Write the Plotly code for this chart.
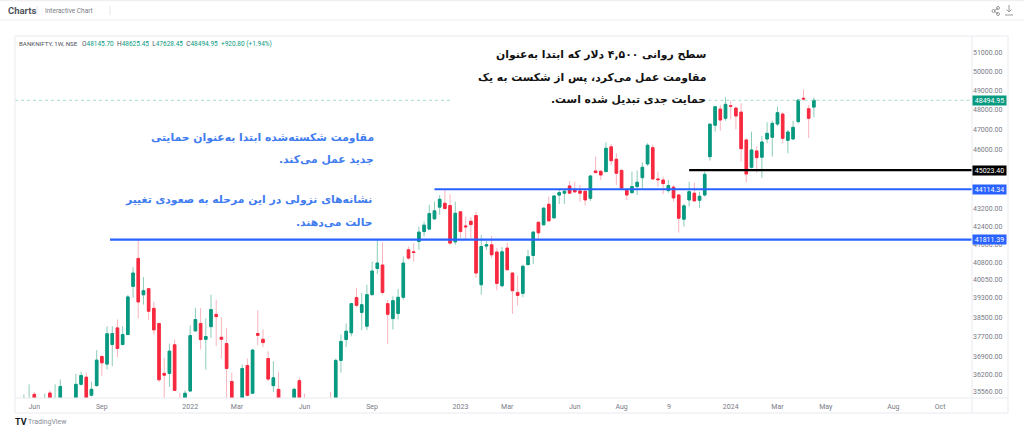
import math
import pandas as pd
import plotly.graph_objects as go

W = 1024
H = 433

# weekly candles, last one is the week of 2024-04-22 (None = week is below the visible range)
opens = [
    35000, 34900, 35460, None, 35000, 35510, 35000, 35250, None, None,
    35250, 35840, 36115, 35425, 35790, 36920, 36620, 37390, 38060, 37390,
    37790, 39780, 40980, 39425, 39680, 38860, 38240, 36260, 36260, 37380,
    35200, 35250, 35585, 37940, 38240, 37600, 38110, 38610, 37680, 37430,
    35950, None, 35250, 36565, 35500, 37830, 37600, 36840, 35790, 35650,
    None, None, 35250, 35980, 35200, None, None, None, None, 35200,
    35250, 36765, 37590, 37860, 39305, 38690, 38130, 39430, 40545, 40695,
    39055, 38440, 38650, 39320, 41360, 41270, 41725, 42170, 42280, 42745,
    43280, 43460, 43355, 41710, 43065, 42425, 42635, 42895, 39850, 41525,
    41580, 41260, 39805, 41435, 40350, 39525, 39485, 40710, 41110, 42590,
    42475, 43415, 42790, 43840, 43930, 44270, 44110, 44035, 44020, 43690,
    44980, 44965, 44950, 46150, 45545, 45010, 44065, 43955, 44240, 44660,
    45320, 46110, 44600, 44550, 44050, 44210, 43845, 42730, 43615, 43930,
    43600, 43845, 45670, 47225, 48045, 47575, 48215, 48095, 47890, 46490,
    45155, 45950, 45645, 46540, 46625, 47285, 47790, 46475, 46540, 47405,
    48600, 48060, 48145.70,
]
highs = [
    35460, 35840, 35550, None, 35490, 35610, 35840, 36030, None, None,
    36245, 36325, 36285, 35945, 37170, 36960, 38130, 38130, 38400, 38130,
    39415, 40605, 41830, 40175, 39680, 39140, 38240, 36870, 37430, 37590,
    35525, 35610, 38160, 38875, 38875, 38450, 39430, 39220, 38480, 38060,
    36285, None, 36605, 36840, 37220, 38780, 37995, 37130, 36735, 36325,
    None, None, 35710, 36090, 35490, None, None, None, None, 35550,
    36830, 37790, 38240, 39060, 39710, 39500, 39850, 40850, 41800, 41680,
    39220, 39360, 39670, 41065, 41505, 41655, 42395, 42620, 43385, 43535,
    43845, 44125, 43880, 43535, 43065, 42850, 42820, 43080, 42015, 41755,
    41980, 41435, 41480, 41680, 40350, 40235, 40710, 41360, 42205, 42620,
    43280, 43770, 43800, 44080, 44080, 44505, 44470, 44315, 44080, 44790,
    45670, 45025, 46375, 46295, 45835, 45040, 44160, 44950, 44995, 45400,
    46330, 46260, 44950, 44710, 44550, 44315, 43845, 43430, 44470, 44425,
    44000, 44950, 47290, 48200, 48250, 48650, 48475, 48165, 48340, 46570,
    46900, 46190, 46690, 47375, 47455, 48165, 47880, 46985, 47455, 48510,
    49065, 48250, 48625.45,
]
lows = [
    34900, 34800, 35000, None, 34900, 35100, 34900, 35100, None, None,
    35150, 35800, 35200, 35380, 35760, 36160, 36413, 36540, 36890, 37390,
    37790, 39305, 38440, 39015, 38370, 37790, 35925, 35300, 35735, 35585,
    35000, 35200, 35560, 37900, 37195, 36400, 37660, 37325, 36840, 35300,
    35150, None, 35100, 35380, 35480, 37365, 37285, 35965, 35550, 35150,
    None, None, 35150, 35150, 34950, None, None, None, None, 35000,
    35150, 36285, 37285, 37720, 38890, 37965, 37965, 39400, 40305, 39430,
    37420, 37995, 38400, 39220, 40925, 40850, 41360, 41950, 42270, 42700,
    42925, 43190, 41580, 41580, 41880, 41800, 41880, 40135, 39430, 41360,
    40995, 39610, 39755, 40470, 38630, 38970, 39320, 40710, 40735, 41800,
    42470, 42620, 42770, 43430, 43430, 43900, 43950, 43535, 43355, 43570,
    44880, 44550, 44930, 45270, 44315, 44120, 43615, 43900, 43845, 44160,
    45220, 44585, 44240, 43880, 43950, 43535, 42125, 42395, 43310, 43535,
    43235, 43770, 45480, 46900, 46950, 47455, 47520, 47020, 45430, 44440,
    45105, 44900, 44660, 46330, 45670, 47185, 46330, 45835, 46490, 47320,
    48475, 46590, 47628.45,
]
closes = [
    35200, 35250, 35200, None, 35250, 35200, 35300, 35760, None, None,
    35840, 36180, 35300, 35650, 36775, 36670, 37820, 37830, 37235, 37790,
    39335, 40350, 39125, 39600, 38740, 37980, 36015, 36190, 37130, 35610,
    35100, 35500, 37750, 38400, 37590, 37710, 38810, 38520, 37600, 36450,
    35250, None, 36450, 35425, 37170, 37760, 37470, 36040, 36090, 35250,
    None, None, 35650, 35250, 35050, None, None, None, None, 35050,
    36765, 37515, 37925, 39055, 38985, 39010, 39430, 40435, 40780, 39525,
    38615, 39180, 39320, 40780, 40995, 41240, 42145, 42460, 42985, 43110,
    43645, 43215, 41655, 43000, 42170, 42385, 42485, 40350, 41505, 41580,
    41140, 39905, 41270, 40490, 39595, 39400, 40640, 41055, 42145, 42115,
    43235, 42655, 43800, 43955, 44020, 43930, 43990, 43930, 43615, 44740,
    44900, 44790, 46080, 45475, 44870, 44160, 43845, 44240, 44445, 45155,
    46230, 44600, 44565, 44380, 44290, 43710, 42775, 43340, 44000, 43570,
    43785, 44820, 47280, 48165, 47488, 48290, 48185, 47690, 46060, 44835,
    45998, 45625, 46390, 46820, 47320, 47860, 46575, 46885, 47120, 48510,
    48565, 47575, 48494.95,
]
dates = pd.date_range(end="2024-04-22", periods=len(closes), freq="7D")

x_tick_dates = ["2021-06-07", "2021-09-06", "2022-01-03", "2022-03-07", "2022-06-06", "2022-09-05",
                "2023-01-02", "2023-03-06", "2023-06-05", "2023-08-07", "2023-10-10", "2024-01-01",
                "2024-03-04", "2024-05-08", "2024-08-07", "2024-10-09"]
x_tick_labels = ["Jun", "Sep", "2022", "Mar", "Jun", "Sep", "2023", "Mar", "Jun", "Aug", "9", "2024",
                 "Mar", "May", "Aug", "Oct"]
y_ticks = [51000, 50000, 49000, 48000, 47000, 46000, 43200, 42400, 41600, 40800, 40050,
           39300, 38500, 37700, 36900, 36200, 35560]

x_start = "2021-05-12"
x_end = "2024-11-21"
y_low = 35322
y_high = 51932

last_price = 48494.95
level_black = 45023.40
level_blue_top = 44114.34
level_blue_low = 41811.39
black_from = "2023-11-06"
blue_top_from = "2022-11-28"
blue_low_from = "2021-09-17"
gap_from = "2022-12-20"
gap_to = "2023-12-02"

UP = "#089981"
DOWN = "#f7293f"
UP_WICK = "#8ccdb9"
DOWN_WICK = "#f9b4bd"
BLUE = "#2962ff"
TEXT_BLUE = "#3f7cf0"
GREY = "#787b86"
FRAME = "#e9eaf0"


def px(x):
    return x / W


def py(y):
    return 1 - y / H


body_high = [None if o is None else max(o, c) for o, c in zip(opens, closes)]
body_low = [None if o is None else min(o, c) for o, c in zip(opens, closes)]

fig = go.Figure()

# dotted last price line, interrupted behind the text box
fig.add_trace(go.Scatter(
    x=[x_start, gap_from, None, gap_to, x_end],
    y=[last_price, last_price, None, last_price, last_price],
    mode="lines", line=dict(color="#a5dccd", width=1, dash="dot"), hoverinfo="skip",
))

# thin wicks in a pale colour, then the bodies on top
fig.add_trace(go.Candlestick(
    x=dates, open=opens, high=highs, low=lows, close=closes,
    increasing=dict(line=dict(color=UP_WICK, width=1), fillcolor=UP_WICK),
    decreasing=dict(line=dict(color=DOWN_WICK, width=1), fillcolor=DOWN_WICK),
    whiskerwidth=0, hoverinfo="skip",
))
fig.add_trace(go.Candlestick(
    x=dates, open=opens, high=body_high, low=body_low, close=closes,
    increasing=dict(line=dict(color=UP, width=1), fillcolor=UP),
    decreasing=dict(line=dict(color=DOWN, width=1), fillcolor=DOWN),
    whiskerwidth=0,
))

# support / resistance levels
for start, level, colour in [(black_from, level_black, "#000000"),
                             (blue_top_from, level_blue_top, BLUE),
                             (blue_low_from, level_blue_low, BLUE)]:
    fig.add_trace(go.Scatter(x=[start, x_end], y=[level, level], mode="lines",
                             line=dict(color=colour, width=2.2), hoverinfo="skip"))

annotations = []


def add_text(text, x, y, size, colour, anchor="left", family="Roboto"):
    annotations.append(dict(text=text, x=px(x), y=py(y), xref="paper", yref="paper",
                            xanchor=anchor, yanchor="middle", showarrow=False,
                            font=dict(size=size, color=colour, family=family)))


# header
add_text("<b>Charts</b>", 6, 10.5, 9.5, "#50535e")
add_text("Interactive Chart", 43, 11, 6.5, "#787b86")

# legend row
add_text("BANKNIFTY, 1W, NSE", 17, 44, 6.2, "#50535e")
num = '<span style="color:%s">%%s</span>' % UP
legend_row = "O" + num % "48145.70" + "  H" + num % "48625.45" + "  L" + num % "47628.45" \
    + "  C" + num % "48494.95" + "  " + num % "+920.80 (+1.94%)"
add_text(legend_row, 80, 44, 6.5, "#50535e")

# logo
add_text("<b>TV</b>", 13, 422, 9, "#131722")
add_text("TradingView", 25.5, 422, 7, "#8a8d96")

# commentary, the RLM keeps the closing punctuation on the left of each line
fa = "DejaVu Sans"
fa_size = 10.8
RLM = "\u200f"
add_text("<b>سطح روانی ۴,۵۰۰ دلار که ابتدا به‌عنوان" + RLM + "</b>", 707.5, 55, fa_size, "#111111", "right", fa)
add_text("<b>مقاومت عمل می‌کرد، پس از شکست به یک" + RLM + "</b>", 707.5, 77, fa_size, "#111111", "right", fa)
add_text("<b>حمایت جدی تبدیل شده است." + RLM + "</b>", 707.5, 100, fa_size, "#111111", "right", fa)
add_text("<b>مقاومت شکسته‌شده ابتدا به‌عنوان حمایتی" + RLM + "</b>", 375.5, 137, fa_size, TEXT_BLUE, "right", fa)
add_text("<b>جدید عمل می‌کند." + RLM + "</b>", 375.5, 159, fa_size, TEXT_BLUE, "right", fa)
add_text("<b>نشانه‌های نزولی در این مرحله به صعودی تغییر" + RLM + "</b>", 373.5, 200, fa_size, TEXT_BLUE, "right", fa)
add_text("<b>حالت می‌دهند." + RLM + "</b>", 373.5, 223, fa_size, TEXT_BLUE, "right", fa)

# price labels on the right axis
for level, colour in [(last_price, UP), (level_black, "#000000"),
                      (level_blue_top, BLUE), (level_blue_low, BLUE)]:
    annotations.append(dict(text="%.2f" % level, x=px(972), y=math.log10(level), xref="paper", yref="y",
                            xanchor="left", yanchor="middle", showarrow=False, width=33, height=9,
                            bgcolor=colour, borderpad=0, font=dict(size=7, color="white", family="Roboto")))

shapes = []


def add_line(x0, y0, x1, y1, colour=FRAME, width=1):
    shapes.append(dict(type="line", xref="paper", yref="paper", x0=px(x0), y0=py(y0), x1=px(x1), y1=py(y1),
                       line=dict(color=colour, width=width)))


# outer frame and header rules
add_line(0, 0.5, W, 0.5, "#f0f0f3", 1.5)
add_line(0, 20, W, 20, "#eeeef2")
add_line(37, 6, 37, 15, "#e6e6ea")
add_line(110, 6, 110, 15, "#e6e6ea")
shapes.append(dict(type="rect", xref="paper", yref="paper", x0=px(15), y0=py(36), x1=px(1008), y1=py(413),
                   line=dict(color=FRAME, width=1)))
add_line(972, 36, 972, 413)
add_line(15, 398, 1008, 398)

# share and download icons
add_line(994, 11, 998, 8, "#9a9a9a")
add_line(994, 11, 998, 14, "#9a9a9a")
for cx, cy in [(993.5, 11), (998, 8), (998, 14)]:
    shapes.append(dict(type="circle", xref="paper", yref="paper", x0=px(cx - 1.5), y0=py(cy - 1.5),
                       x1=px(cx + 1.5), y1=py(cy + 1.5), line=dict(color="#9a9a9a", width=1)))
add_line(1009, 5, 1009, 12, "#9a9a9a")
add_line(1006.5, 9.5, 1009, 12, "#9a9a9a")
add_line(1011.5, 9.5, 1009, 12, "#9a9a9a")
add_line(1005, 15, 1013, 15, "#9a9a9a")

fig.update_layout(
    width=W, height=H,
    margin=dict(l=0, r=0, t=0, b=0),
    paper_bgcolor="white", plot_bgcolor="white",
    showlegend=False,
    annotations=annotations,
    shapes=shapes,
    xaxis=dict(domain=[px(15), px(972)], range=[x_start, x_end], type="date",
               rangeslider=dict(visible=False), showgrid=False, zeroline=False, showline=False,
               tickmode="array", tickvals=x_tick_dates, ticktext=x_tick_labels, ticks="",
               ticklabelstandoff=3, tickfont=dict(size=7, color=GREY, family="Roboto")),
    yaxis=dict(domain=[py(398), py(36)], type="log", range=[math.log10(y_low), math.log10(y_high)],
               side="right", showgrid=False, zeroline=False, showline=False,
               tickmode="array", tickvals=y_ticks, ticktext=["%.2f" % t for t in y_ticks], ticks="",
               tickfont=dict(size=7, color=GREY, family="Roboto")),
)

fig.write_html("out.html", config=dict(displayModeBar=False), post_script="document.body.style.margin='0';")
